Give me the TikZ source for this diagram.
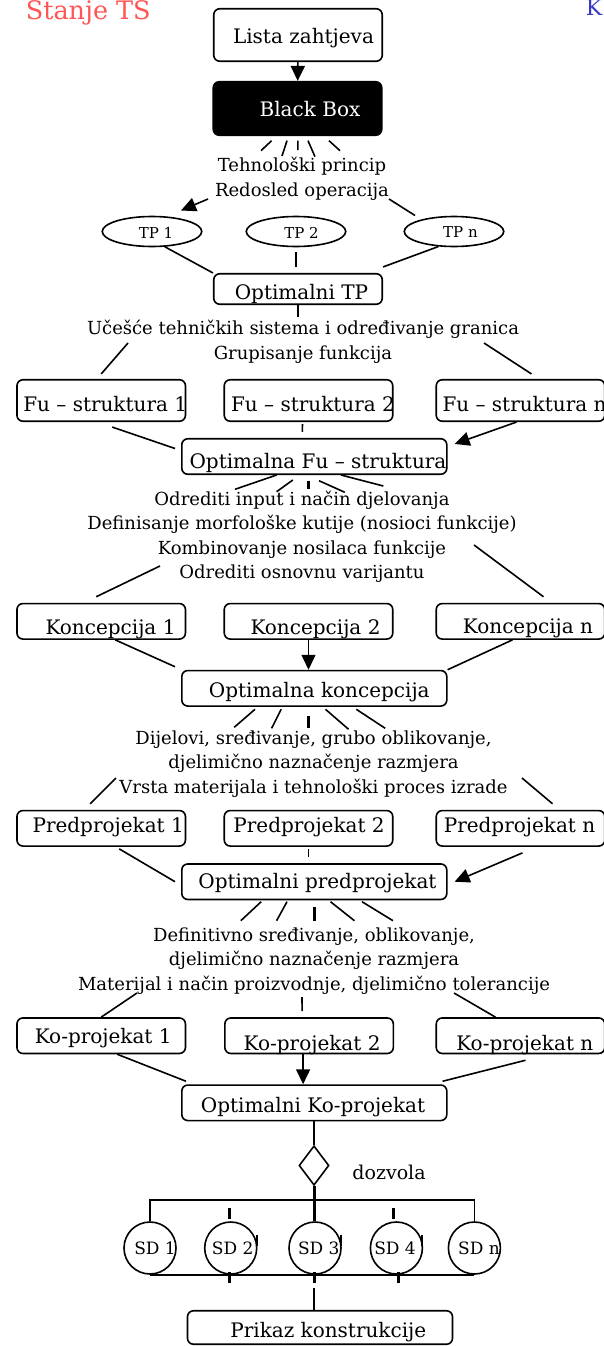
\documentclass[tikz,border=0pt]{standalone}
\usepackage{fontspec}
\setmainfont{DejaVu Serif}
\usetikzlibrary{shapes.geometric,arrows.meta}
\definecolor{tsred}{RGB}{255,85,85}
\definecolor{kblue}{RGB}{56,56,200}

\begin{document}
\begin{tikzpicture}[x=1pt,y=-1pt,line width=1.6pt,
        box/.style={draw,rounded corners=6pt,inner sep=0pt,minimum width=168.5pt,minimum height=35.5pt},
        wide/.style={box,minimum width=265pt},
        lbl/.style={font=\fontsize{20}{24}\selectfont},
        lb/.style n args={3}{label={[lbl,xshift=#1,yshift=#2]center:#3}},
        txt/.style={align=center,inner sep=0pt,font=\fontsize{18}{24.5}\selectfont},
        tp/.style 2 args={draw,ellipse,inner sep=0pt,minimum width=99.5pt,minimum height=30pt,
            label={[font=\fontsize{15}{18}\selectfont,xshift=#1,yshift=-1pt]center:TP #2}},
        sd/.style 2 args={draw,circle,inner sep=0pt,minimum size=52pt,
            label={[font=\fontsize{17}{20}\selectfont,xshift=#1]center:SD #2}},
        arr/.style={-{Triangle[length=15pt,width=14pt]}},
        tick/.style={line width=3pt}]
    \useasboundingbox (0,0) rectangle (604,1346);

    \node[anchor=base west,inner sep=0pt,text=tsred,font=\fontsize{25.5}{30}\selectfont] (stanje) at (25,20) {Stanje TS};
    \node[anchor=base east,inner sep=0pt,text=kblue,font=\fontsize{22}{26}\selectfont] (kk) at (603,16) {K};

    \node[box,minimum height=52.5pt,lb={5.5}{-3.5}{Lista zahtjeva}] (lista) at (298,35) {};
    \node[box,fill=black,minimum height=53.5pt,label={[lbl,text=white,xshift=12.5,yshift=-0.5]center:Black Box}] (bb) at (297.5,108.5) {};
    \node[txt] (tech) at (302,179) {Tehnološki princip\\Redosled operacija};

    \node[tp={4}{1}] (tp1) at (152,231.5) {};
    \node[tp={5.5}{2}] (tp2) at (296,231.5) {};
    \node[tp={6.5}{n}] (tpn) at (454,231.5) {};
    \node[box,minimum height=30.5pt,lb={3.5}{-4.8}{Optimalni TP}] (optTP) at (298,289) {};
    \node[txt] (grp) at (303,342) {Učešće tehničkih sistema i određivanje granica\\Grupisanje funkcija};

    \node[box,minimum height=41.5pt,lb={4}{-3.5}{Fu – struktura 1}] (fu1) at (101.2,400.5) {};
    \node[box,minimum height=41.5pt,lb={4.5}{-3.5}{Fu – struktura 2}] (fu2) at (308.5,400.5) {};
    \node[box,minimum height=41.5pt,lb={4}{-3.5}{Fu – struktura n}] (fun) at (520.5,400.5) {};
    \node[wide,lb={3.7}{-6.3}{Optimalna Fu – struktura}] (optFu) at (314.3,456.5) {};
    \node[txt] (morf) at (302,537) {Odrediti input i način djelovanja\\Definisanje morfološke kutije (nosioci funkcije)\\Kombinovanje nosilaca funkcije\\Odrediti osnovnu varijantu};

    \node[box,lb={9.3}{-7.5}{Koncepcija 1}] (kon1) at (101.2,621.3) {};
    \node[box,lb={7}{-7.5}{Koncepcija 2}] (kon2) at (308.5,621.3) {};
    \node[box,lb={7.5}{-7.5}{Koncepcija n}] (konn) at (520.5,621.3) {};
    \node[wide,lb={5}{-3.5}{Optimalna koncepcija}] (optKon) at (314.3,688.3) {};
    \node[txt] (dij) at (313.5,764) {Dijelovi, sređivanje, grubo oblikovanje,\\djelimično naznačenje razmjera\\Vrsta materijala i tehnološki proces izrade};

    \node[box,lb={7}{1.3}{Predprojekat 1}] (pre1) at (101.2,828.3) {};
    \node[box,lb={0.6}{1.3}{Predprojekat 2}] (pre2) at (308.5,828.3) {};
    \node[box,lb={-1}{1.3}{Predprojekat n}] (pren) at (520.5,828.3) {};
    \node[wide,lb={3.2}{-1}{Optimalni predprojekat}] (optPre) at (314.3,881.7) {};
    \node[txt] (def) at (314,961) {Definitivno sređivanje, oblikovanje,\\djelimično naznačenje razmjera\\Materijal i način proizvodnje, djelimično tolerancije};

    \node[box,lb={2}{-2}{Ko-projekat 1}] (ko1) at (101.2,1035.7) {};
    \node[box,lb={3}{-9}{Ko-projekat 2}] (ko2) at (309.1,1035.7) {};
    \node[box,lb={4.3}{-9}{Ko-projekat n}] (kon) at (520.5,1035.7) {};
    \node[wide,lb={-1.3}{-4}{Optimalni Ko-projekat}] (optKo) at (314.3,1102.8) {};

    \node[draw,diamond,inner sep=0pt,minimum width=30pt,minimum height=39.5pt] (dia) at (314,1165.5) {};
    \node[font=\fontsize{19}{22}\selectfont] (doz) at (389,1172) {dozvola};

    \node[sd={5}{1}] (sd1) at (150,1248) {};
    \node[sd={2}{2}] (sd2) at (230.7,1248) {};
    \node[sd={3.8}{3}] (sd3) at (315,1248) {};
    \node[sd={-1.4}{4}] (sd4) at (396.4,1248) {};
    \node[sd={4.6}{n}] (sdn) at (474.4,1248) {};
    \node[wide,minimum height=33.5pt,lb={8.3}{-5}{Prikaz konstrukcije}] (prikaz) at (320,1327.5) {};

    % free ends next to the text blocks
    \coordinate (t1) at (208,199);
    \coordinate (t2) at (389,199);
    \coordinate (g1) at (128,343);
    \coordinate (g2) at (484,343);
    \coordinate (m1) at (160,566);
    \coordinate (m2) at (474,545);
    \coordinate (d1) at (116,778);
    \coordinate (d2) at (522,778);
    \coordinate (e1) at (137,993);
    \coordinate (e2) at (302,997);
    \coordinate (e3) at (454,993);
    \coordinate (bus) at (314,1200);

    % rays
    \draw (271.6,140.7) -- (261,150.7)   (287,140.7) -- (282,156)
          (297.8,140.7) -- (297.8,150)   (308,140.7) -- (315,156.7)
          (329,140.7) -- (340,150.7)
          (276.6,475) -- (235,489.3)     (292.8,480) -- (276.6,491.7)
          (319,480.7) -- (344.8,492.3)   (341,475) -- (383.3,486)
          (255,709.3) -- (234.2,727.3)   (281.2,709.3) -- (271.6,728.3)
          (325.5,709.3) -- (348.6,729.3) (356.3,709.3) -- (385.2,728.3)
          (261.2,901.7) -- (240.8,920.7) (287,901.7) -- (276.6,920.7)
          (330.5,901.7) -- (354.4,920.7) (362,901.7) -- (393,920.7);
    \draw[tick] (308,480.7) -- (308,489.3)
                (308,716) -- (308,728.3)
                (314,907.3) -- (314,920.7);

    \draw[arr] (lista) -- (bb);
    \draw[arr] (t1) -- ([shift={(29,-21)}]tp1.center);
    \draw (t2) -- ([shift={(-39,-16)}]tpn.center);
    \draw (tp1.-50) -- (optTP.north west);
    \draw[shorten <=5pt,shorten >=6pt] (tp2.south) -- (tp2.south |- optTP.north);
    \draw (tpn.-136) -- ([yshift=6pt]optTP.north east);
    \draw[shorten >=3pt] (optTP.south) -- (optTP.south |- grp.north);

    \draw (g1) -- ([yshift=5pt]fu1.north);
    \draw (g2) -- ([shift={(11,-5)}]fun.north);
    \draw ([shift={(11,5)}]fu1.south) -- ([shift={(-6,-8)}]optFu.west);
    \draw ([shift={(-6,2)}]fu2.south) -- ([shift={(-12,-6)}]optFu.north);
    \draw[arr] ([xshift=-4pt]fun.south) -- ([shift={(7,6)}]optFu.north east);

    \draw (m1) -- ([shift={(-5,-6)}]kon1.north);
    \draw (m2) -- ([shift={(23,-6)}]konn.north);
    \draw ([xshift=14pt]kon1.south) -- ([shift={(-6,-3)}]optKon.north west);
    \draw[arr] (kon2.south) -- (kon2.south |- optKon.north);
    \draw ([xshift=-8pt]konn.south) -- (optKon.north east);

    \draw (d1) -- ([shift={(-11,-6)}]pre1.north);
    \draw (d2) -- ([shift={(32,-6)}]pren.north);
    \draw ([shift={(18,2)}]pre1.south) -- ([xshift=-6pt]optPre.west);
    \draw[shorten <=2pt,shorten >=6pt] (pre2.south) -- (pre2.south |- optPre.north);
    \draw[arr] ([shift={(2,6)}]pren.south) -- ([xshift=7pt]optPre.east);

    \draw (e1) -- (ko1.north);
    \draw (e2) -- ([shift={(-7,-6)}]ko2.north);
    \draw (e3) -- ([xshift=-25pt]kon.north);
    \draw ([xshift=16pt]ko1.south) -- ([shift={(5,-3)}]optKo.north west);
    \draw[arr] ([xshift=-6pt]ko2.south) -- ([xshift=-6pt]ko2.south |- optKo.north);
    \draw ([shift={(5,6)}]kon.south) -- ([shift={(-5,-3)}]optKo.north east);

    \draw (dia.north |- optKo.south) -- (dia.north);
    \draw[tick] (dia.south) -- (dia.south |- sd3.north);
    \draw (sd1.north) |- (bus) -| (sdn.north);
    \draw (sd1.south) -- (sdn.south);
    \draw[tick] ([shift={(-1.5,-2)}]sd2.north) -- ++(0,-11)
                ([shift={(-2.7,-2)}]sd4.north) -- ++(0,-11)
                ([shift={(-1.5,-3)}]sd2.south) -- ++(0,11)
                ([shift={(-1,-3)}]sd3.south) -- ++(0,11)
                ([shift={(2.3,-3)}]sd4.south) -- ++(0,11);
    \draw[line width=2pt] ([shift={(-1,-2)}]sd2.east) -- ++(0,-11)
                          ([shift={(-1,-2)}]sd3.east) -- ++(0,-11)
                          ([shift={(-1,-2)}]sd4.east) -- ++(0,-11);
    \draw[shorten <=13pt] ([xshift=-1pt]sd3.south) -- ([xshift=-1pt]sd3.south |- prikaz.north);
\end{tikzpicture}
\end{document}
